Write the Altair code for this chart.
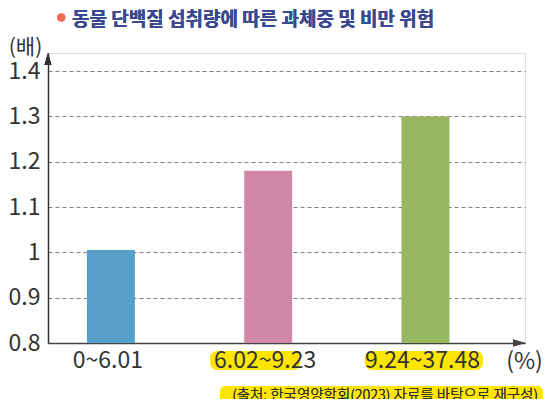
import altair as alt
import pandas as pd

# ---- data ----
categories = ["0~6.01", "6.02~9.23", "9.24~37.48"]
values = [1.005, 1.18, 1.3]
bar_colors = ["#569fc8", "#d188a6", "#97b760"]
highlighted = [False, True, True]
y_ticks = [0.8, 0.9, 1.0, 1.1, 1.2, 1.3, 1.4]
y_base = 0.8

title_text = "동물 단백질 섭취량에 따른 과체중 및 비만 위험"
y_unit = "(배)"
x_unit = "(%)"
source_text = "(출처: 한국영양학회(2023) 자료를 바탕으로 재구성)"

df = pd.DataFrame({"cat": categories, "val": values, "hl": highlighted})

W, H = 477, 290
LABEL_FONT = "Noto Sans CJK KR, sans-serif"
HL = "#ffe600"

x_scale = alt.Scale(domain=categories, paddingInner=0.695, paddingOuter=0.364, align=0.34)
y_scale = alt.Scale(domain=[0.8, 1.44], zero=False, nice=False)

base = alt.Chart(df)

bars = base.mark_bar().encode(
    x=alt.X("cat:N", scale=x_scale, sort=categories,
            axis=alt.Axis(labels=False, ticks=False, domain=True, domainColor="#444",
                          domainWidth=1.5, grid=False, title=x_unit, titleX=476, titleY=18,
                          titleAlign="center", titleBaseline="middle", titleFontSize=23,
                          titleFontWeight="normal", titleColor="#333", titleFont=LABEL_FONT)),
    y=alt.Y("val:Q", scale=y_scale,
            axis=alt.Axis(values=y_ticks, format=".1~f", grid=True, gridDash=[4, 3],
                          gridColor="#808080", gridWidth=1, ticks=False, labelPadding=8,
                          labelFontSize=23, labelColor="#333", labelFont=LABEL_FONT,
                          domainColor="#333", domainWidth=1.5,
                          title=y_unit, titleAngle=0, titleX=-23, titleY=-6,
                          titleAlign="center", titleBaseline="middle", titleFontSize=21,
                          titleFontWeight="normal", titleColor="#333", titleFont=LABEL_FONT)),
    y2=alt.datum(y_base),
    color=alt.Color("cat:N", scale=alt.Scale(domain=categories, range=bar_colors), legend=None),
)

hl2 = base.transform_filter(alt.datum.cat == categories[1]).mark_bar(
    color=HL, width=90, cornerRadius=7, xOffset=-13
).encode(x=alt.X("cat:N", scale=x_scale, sort=categories), y=alt.value(298), y2=alt.value(317))

hl3 = base.transform_filter(alt.datum.cat == categories[2]).mark_bar(
    color=HL, width=118, cornerRadius=7, xOffset=-1.5
).encode(x=alt.X("cat:N", scale=x_scale, sort=categories), y=alt.value(298), y2=alt.value(317))

xlabels = base.mark_text(font=LABEL_FONT, fontSize=23, color="#333", baseline="middle",
                         align="center", dx=-3).encode(
    x=alt.X("cat:N", scale=x_scale, sort=categories), y=alt.value(308), text="cat:N")

yarrow = base.mark_point(shape="M0,0L0.58,2L-0.58,2Z", size=144, filled=True,
                         color="#333", opacity=1).encode(x=alt.value(0), y=alt.value(0))
xarrow = base.mark_point(shape="M0,0L-2,-0.58L-2,0.58Z", size=144, filled=True,
                         color="#444", opacity=1).encode(x=alt.value(W), y=alt.value(H))

bullet = base.mark_point(shape="circle", size=64, filled=True, color="#f06b4f",
                         opacity=1).encode(x=alt.value(13.3), y=alt.value(-35.5))
title = base.mark_text(text=title_text, font="Noto Sans CJK KR", fontSize=19,
                       fontWeight="bold", color="#3b4a8f", align="left",
                       baseline="middle").encode(x=alt.value(24), y=alt.value(-33.5))

src_hl = base.mark_rect(color=HL, cornerRadius=6).encode(
    x=alt.value(172), x2=alt.value(495), y=alt.value(333), y2=alt.value(351))
src = base.mark_text(text=source_text, font="Noto Sans CJK KR", fontSize=14.5,
                     fontWeight=300, color="#333", align="right",
                     baseline="middle").encode(x=alt.value(490), y=alt.value(343))

chart = alt.layer(
    bars, hl2, hl3, xlabels, yarrow, xarrow, bullet, title, src_hl, src
).properties(
    width=W, height=H,
    padding={"left": 40, "top": 45, "right": 18, "bottom": 56},
    autosize=alt.AutoSizeParams(type="none"),
).configure_view(stroke=None).configure(background="white")

chart.save("out.html", embed_options={"renderer": "svg", "actions": False})
